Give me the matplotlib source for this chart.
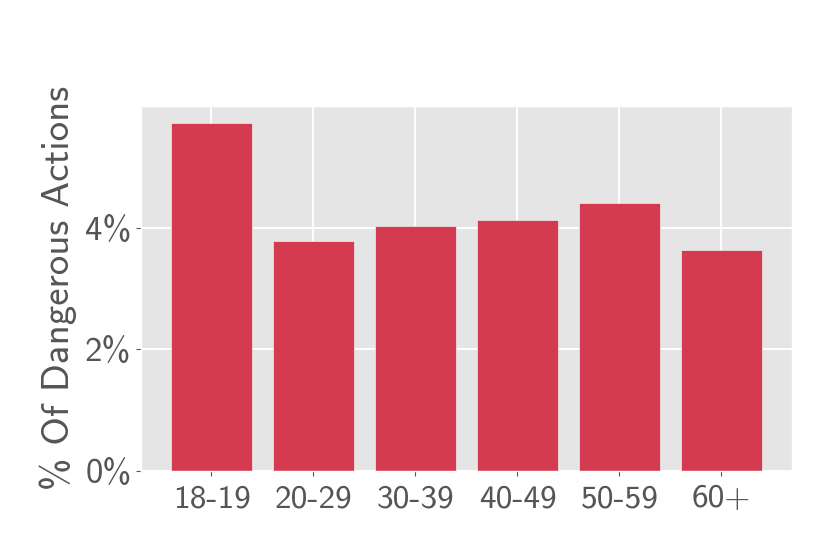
import matplotlib
matplotlib.use("Agg")
from matplotlib import pyplot as plt

plt.style.use("ggplot")
plt.rcParams['font.family'] = ['cmss10', 'DejaVu Sans']
plt.rcParams['axes.unicode_minus'] = False

age_groups = ["18-19", "20-29", "30-39", "40-49", "50-59", "60+"]
pct_dangerous = [5.73, 3.79, 4.03, 4.13, 4.41, 3.64]
y_ticks = [0, 2, 4]
y_tick_labels = ["0%", "2%", "4%"]

fig = plt.figure(figsize=(8.3, 5.54), dpi=100)
ax = fig.add_axes([0.170, 0.150, 0.784, 0.659])

ax.bar(age_groups, pct_dangerous, width=0.8, color="#d53b50",
       edgecolor="#eeeeee", linewidth=0.5)
ax.set_ylim(0, 6.01)
ax.set_yticks(y_ticks)
ax.set_yticklabels(y_tick_labels)
ax.grid(color="white", linewidth=1.4)
ax.tick_params(axis="y", labelsize=25, colors="#555555")
ax.tick_params(axis="x", labelsize=24, colors="#555555", pad=6)
ax.set_ylabel("% Of Dangerous Actions", fontsize=28, color="#555555", labelpad=6)

fig.savefig("out.png", dpi=100)
